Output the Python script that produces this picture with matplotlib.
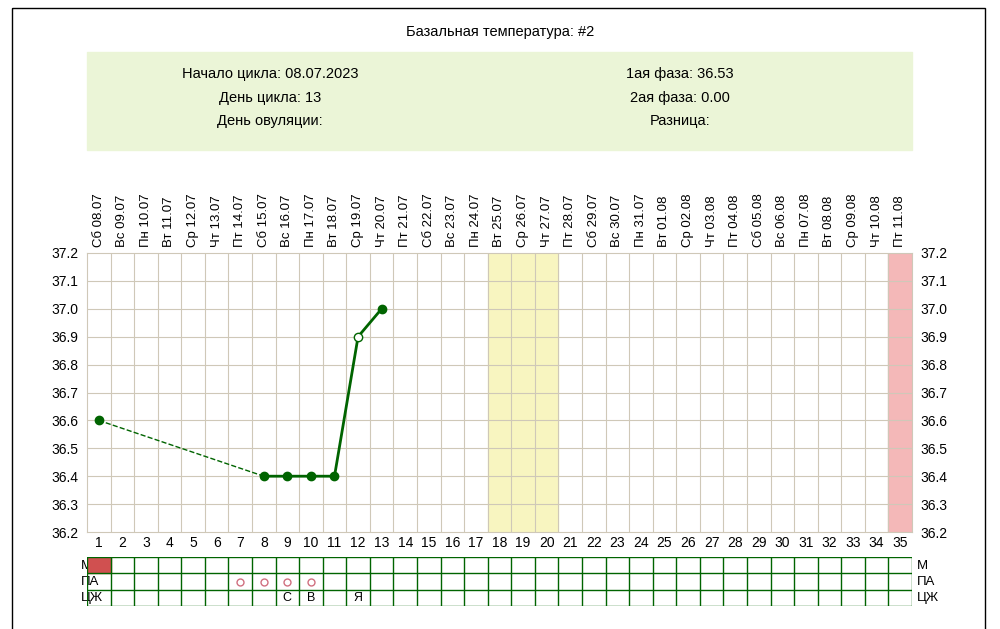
import matplotlib.pyplot as plt
from matplotlib.patches import Rectangle

W, H = 1000, 629
days = list(range(1, 36))
dates = ['Сб 08.07', 'Вс 09.07', 'Пн 10.07', 'Вт 11.07', 'Ср 12.07', 'Чт 13.07', 'Пт 14.07',
         'Сб 15.07', 'Вс 16.07', 'Пн 17.07', 'Вт 18.07', 'Ср 19.07', 'Чт 20.07', 'Пт 21.07',
         'Сб 22.07', 'Вс 23.07', 'Пн 24.07', 'Вт 25.07', 'Ср 26.07', 'Чт 27.07', 'Пт 28.07',
         'Сб 29.07', 'Вс 30.07', 'Пн 31.07', 'Вт 01.08', 'Ср 02.08', 'Чт 03.08', 'Пт 04.08',
         'Сб 05.08', 'Вс 06.08', 'Пн 07.08', 'Вт 08.08', 'Ср 09.08', 'Чт 10.08', 'Пт 11.08']
temp_days = [1, 8, 9, 10, 11, 12, 13]
temps = [36.6, 36.4, 36.4, 36.4, 36.4, 36.9, 37.0]
hollow_days = [12]
yticks = [36.2, 36.3, 36.4, 36.5, 36.6, 36.7, 36.8, 36.9, 37.0, 37.1, 37.2]
fertile_days = [18, 19, 20]
next_cycle_day = 35
m_days = [1]
pa_days = [7, 8, 9, 10]
cm_marks = {9: 'С', 10: 'В', 12: 'Я'}

green = '#006400'
grid_col = '#cfc8b8'
fig = plt.figure(figsize=(10, 6.29), dpi=100)
plt.rcParams['font.family'] = ['Liberation Sans', 'DejaVu Sans']

def pax(x0, y0, x1, y1):
    return fig.add_axes([x0 / W, 1 - y1 / H, (x1 - x0) / W, (y1 - y0) / H])

# outer frame and header
bg = fig.add_axes([0, 0, 1, 1]); bg.set_xlim(0, W); bg.set_ylim(H, 0); bg.axis('off')
bg.add_patch(Rectangle((12, 8), 973, 640, fill=False, ec='black', lw=1))
bg.text(500, 32, 'Базальная температура: #2', ha='center', va='center', fontsize=10.5)
bg.add_patch(Rectangle((87, 52), 825, 98, color='#ebf5d7'))
bg.text(270, 74, 'Начало цикла: 08.07.2023', ha='center', va='center', fontsize=10.5)
bg.text(270, 98, 'День цикла: 13', ha='center', va='center', fontsize=10.5)
bg.text(270, 121, 'День овуляции:', ha='center', va='center', fontsize=10.5)
bg.text(680, 74, '1ая фаза: 36.53', ha='center', va='center', fontsize=10.5)
bg.text(680, 98, '2ая фаза: 0.00', ha='center', va='center', fontsize=10.5)
bg.text(680, 121, 'Разница:', ha='center', va='center', fontsize=10.5)

# main chart
ax = pax(87, 253, 912, 532)
ax.set_xlim(0.5, 35.5); ax.set_ylim(36.2, 37.2)
for d in fertile_days:
    ax.axvspan(d - 0.5, d + 0.5, color='#f8f5c0', zorder=0)
ax.axvspan(next_cycle_day - 0.5, next_cycle_day + 0.5, color='#f4b8b8', zorder=0)
for d in days[:-1]:
    ax.axvline(d + 0.5, color=grid_col, lw=0.8, zorder=1)
for y in yticks[1:-1]:
    ax.axhline(y, color=grid_col, lw=0.8, zorder=1)
for s in ax.spines.values():
    s.set_color(grid_col)
ax.plot(temp_days[:2], temps[:2], '--', color=green, lw=1, zorder=2)
ax.plot(temp_days[1:], temps[1:], '-', color=green, lw=2, zorder=2)
for d, t in zip(temp_days, temps):
    ax.plot(d, t, 'o', ms=6, mec=green, mfc='white' if d in hollow_days else green, zorder=3)
ax.set_yticks(yticks)
ax.set_yticklabels([f'{y:.1f}' for y in yticks], fontsize=10)
ax.tick_params(axis='y', length=0, labelright=True, pad=6)
ax.set_xticks(days)
ax.set_xticklabels([str(d) for d in days], fontsize=10)
ax.tick_params(axis='x', length=0, pad=3)
ax2 = ax.secondary_xaxis('top')
ax2.set_xticks(days)
ax2.set_xticklabels(dates, rotation=90, fontsize=9.5)
ax2.tick_params(length=0, pad=4)
ax2.spines['top'].set_visible(False)

# bottom table
tb = pax(87, 557, 912, 606)
tb.set_xlim(0.5, 35.5); tb.set_ylim(3, 0); tb.axis('off')
for d in m_days:
    tb.add_patch(Rectangle((d - 0.5, 0), 1, 1, color='#d05050'))
for d in days + [36]:
    tb.plot([d - 0.5] * 2, [0, 3], color=green, lw=1)
for r in range(4):
    tb.plot([0.5, 35.5], [r, r], color=green, lw=1)
for d in pa_days:
    tb.plot(d, 1.5, 'o', ms=5, mfc='none', mec='#d07080', mew=1)
for d, t in cm_marks.items():
    tb.text(d, 2.5, t, ha='center', va='center', fontsize=9)
for i, lab in enumerate(['М', 'ПА', 'ЦЖ']):
    bg.text(81, 566 + 16 * i, lab, ha='left', va='center', fontsize=9.5)
    bg.text(917, 566 + 16 * i, lab, ha='left', va='center', fontsize=9.5)

fig.savefig('out.png', dpi=100)
